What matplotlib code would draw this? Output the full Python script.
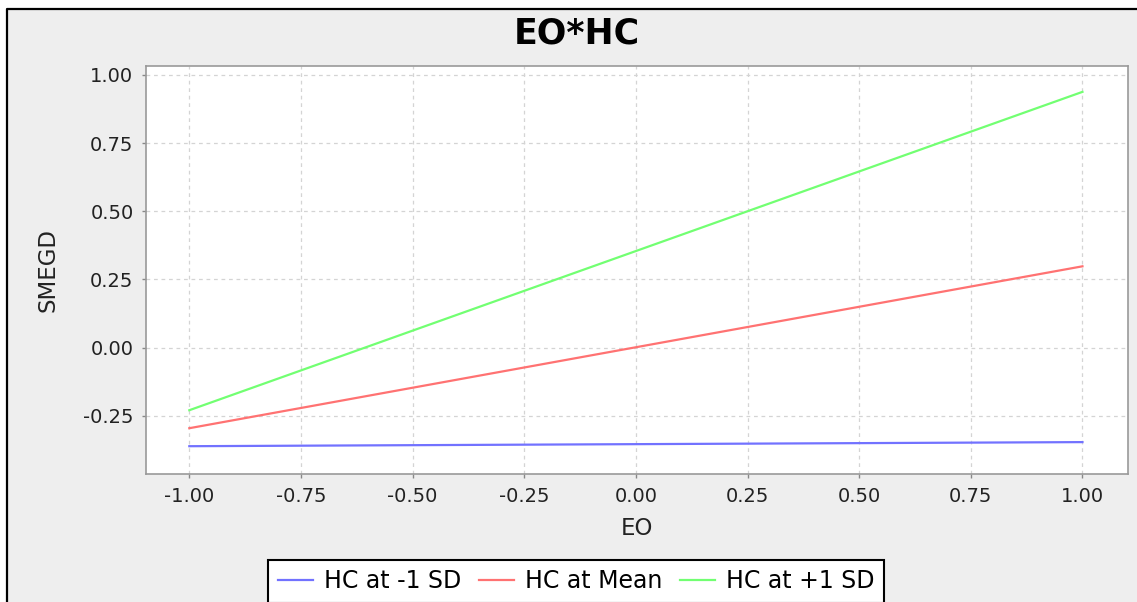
import matplotlib
matplotlib.use('Agg')
import matplotlib.pyplot as plt
from matplotlib.patches import Rectangle
from matplotlib.lines import Line2D

# data: simple slopes of SMEGD on EO at 3 levels of HC
eo = [-1.0, 1.0]
hc_low = [-0.362, -0.347]
hc_mean = [-0.296, 0.298]
hc_high = [-0.230, 0.938]
labels = ['HC at -1 SD', 'HC at Mean', 'HC at +1 SD']
colors = ['#7272ff', '#ff7272', '#72ff72']
ticks = [-1.0, -0.75, -0.5, -0.25, 0.0, 0.25, 0.5, 0.75, 1.0]
yticks = [-0.25, 0.0, 0.25, 0.5, 0.75, 1.0]

plt.rcParams['font.family'] = ['DejaVu Sans']

fig = plt.figure(figsize=(11.37, 6.02), dpi=100, facecolor='white')
# grey panel, black frame only on top and left
x0 = 7 / 1137
y0 = 1 - 8.5 / 602
fig.patches.append(Rectangle((x0, 0), 1 - x0, y0, transform=fig.transFigure,
                             facecolor='#eeeeee', edgecolor='none', zorder=-10))
fig.lines.append(Line2D([x0, x0, 1], [0, y0, y0], transform=fig.transFigure,
                        color='black', linewidth=1.6))

ax = fig.add_axes([146 / 1137, 1 - 474 / 602, (1128 - 146) / 1137, (474 - 65.7) / 602])
ax.set_facecolor('white')

for ys, c, lab in zip([hc_low, hc_mean, hc_high], colors, labels):
    ax.plot(eo, ys, color=c, linewidth=1.6, label=lab)

ax.set_xlim(-1.097, 1.102)
ax.set_ylim(-0.464, 1.034)
ax.set_xticks(ticks)
ax.set_xticklabels(['%.2f' % t for t in ticks])
ax.set_yticks(yticks)
ax.set_yticklabels(['%.2f' % t for t in yticks])
ax.grid(True, color='#d4d4d4', linestyle=(0, (3, 3)), linewidth=0.9)
ax.set_axisbelow(True)
for s in ax.spines.values():
    s.set_color('#999999')
    s.set_linewidth(1.2)
ax.tick_params(axis='both', colors='#888888', labelcolor='#222222',
               labelsize=14, length=3, width=1, direction='out', pad=6)

ax.set_xlabel('EO', fontsize=16.5, color='#222222', labelpad=8)
ax.set_ylabel('SMEGD', fontsize=16.5, color='#222222', labelpad=17)

fig.text(577 / 1137, 1 - 33 / 602, 'EO*HC', ha='center', va='center',
         fontsize=25, fontweight='bold', color='black')

leg = fig.legend(loc='upper center', bbox_to_anchor=(576 / 1137, 1 - 560 / 602),
                 ncol=3, fontsize=17, frameon=True, fancybox=False,
                 edgecolor='black', facecolor='white', framealpha=1,
                 handlelength=1.5, handletextpad=0.45, columnspacing=0.75,
                 borderpad=0.4, borderaxespad=0)
leg.get_frame().set_linewidth(1.5)

fig.savefig('out.png', dpi=100, facecolor=fig.get_facecolor())
